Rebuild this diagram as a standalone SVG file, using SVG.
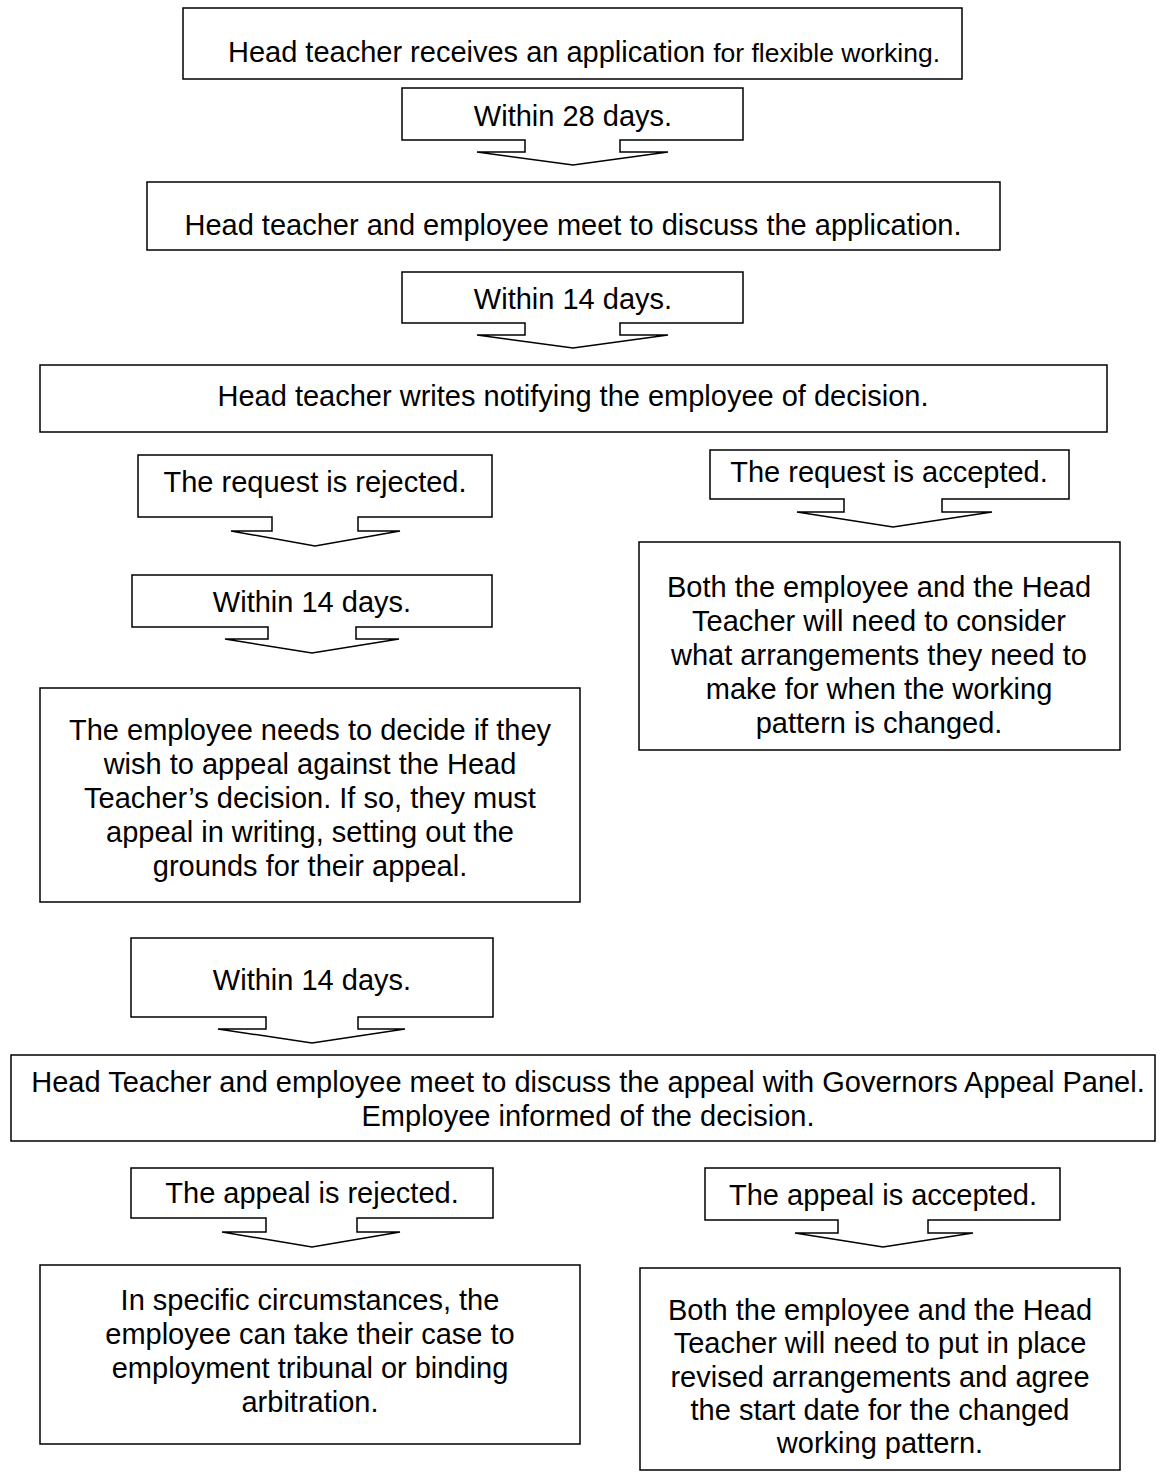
<svg xmlns="http://www.w3.org/2000/svg" width="1168" height="1478" viewBox="0 0 1168 1478">
<style>
.box{fill:#fff;stroke:#000;stroke-width:1.5}
.co{fill:#fff;stroke:#000;stroke-width:1.5;stroke-linejoin:miter}
text{font-family:"Liberation Sans",Arial,sans-serif;font-size:29px;fill:#000;text-anchor:middle}
</style>
<rect width="1168" height="1478" fill="#fff"/>
<g id="n1">
<rect class="box" x="183" y="8" width="779" height="71"/>
<text x="584" y="62">Head teacher receives an application <tspan style="font-size:26.5px">for flexible working.</tspan></text>
</g>
<g id="n2">
<rect class="box" x="147" y="182" width="853" height="68"/>
<text x="573" y="235">Head teacher and employee meet to discuss the application.</text>
</g>
<g id="n3">
<rect class="box" x="40" y="365" width="1067" height="67"/>
<text x="573" y="406">Head teacher writes notifying the employee of decision.</text>
</g>
<g id="n4">
<rect class="box" x="639" y="542" width="481" height="208"/>
<text x="879" y="597">Both the employee and the Head</text>
<text x="879" y="631">Teacher will need to consider</text>
<text x="879" y="665">what arrangements they need to</text>
<text x="879" y="699">make for when the working</text>
<text x="879" y="733">pattern is changed.</text>
</g>
<g id="n5">
<rect class="box" x="40" y="688" width="540" height="214"/>
<text x="310" y="740">The employee needs to decide if they</text>
<text x="310" y="774">wish to appeal against the Head</text>
<text x="310" y="808">Teacher’s decision. If so, they must</text>
<text x="310" y="842">appeal in writing, setting out the</text>
<text x="310" y="876">grounds for their appeal.</text>
</g>
<g id="n6">
<rect class="box" x="11" y="1055" width="1144" height="86"/>
<text x="588" y="1092">Head Teacher and employee meet to discuss the appeal with Governors Appeal Panel.</text>
<text x="588" y="1126">Employee informed of the decision.</text>
</g>
<g id="n7">
<rect class="box" x="40" y="1265" width="540" height="179"/>
<text x="310" y="1310">In specific circumstances, the</text>
<text x="310" y="1344">employee can take their case to</text>
<text x="310" y="1378">employment tribunal or binding</text>
<text x="310" y="1412">arbitration.</text>
</g>
<g id="n8">
<rect class="box" x="640" y="1268" width="480" height="202"/>
<text x="880" y="1320">Both the employee and the Head</text>
<text x="880" y="1353">Teacher will need to put in place</text>
<text x="880" y="1387">revised arrangements and agree</text>
<text x="880" y="1420">the start date for the changed</text>
<text x="880" y="1453">working pattern.</text>
</g>
<g id="connectors">
<g id="c1">
<path class="co" d="M402,88 H743 V140 H620 V152 H668 L573,165 L477,152 H525 V140 H402 Z"/>
<text x="573" y="126">Within 28 days.</text>
</g>
<g id="c2">
<path class="co" d="M402,272 H743 V323 H620 V335 H668 L573,348 L477,335 H525 V323 H402 Z"/>
<text x="573" y="309">Within 14 days.</text>
</g>
<g id="c3">
<path class="co" d="M138,455 H492 V517 H358 V531 H400 L315,546 L231,531 H272 V517 H138 Z"/>
<text x="315" y="492">The request is rejected.</text>
</g>
<g id="c4">
<path class="co" d="M710,450 H1069 V499 H942 V512 H992 L893,527 L797,512 H844 V499 H710 Z"/>
<text x="889" y="482">The request is accepted.</text>
</g>
<g id="c5">
<path class="co" d="M132,575 H492 V627 H356 V639 H399 L312,653 L225,639 H268 V627 H132 Z"/>
<text x="312" y="612">Within 14 days.</text>
</g>
<g id="c6">
<path class="co" d="M131,938 H493 V1017 H358 V1029 H405 L312,1043 L218,1029 H266 V1017 H131 Z"/>
<text x="312" y="990">Within 14 days.</text>
</g>
<g id="c7">
<path class="co" d="M131,1168 H493 V1218 H357 V1232 H400 L312,1247 L222,1232 H266 V1218 H131 Z"/>
<text x="312" y="1203">The appeal is rejected.</text>
</g>
<g id="c8">
<path class="co" d="M705,1168 H1060 V1220 H928 V1233 H973 L883,1247 L795,1233 H838 V1220 H705 Z"/>
<text x="883" y="1205">The appeal is accepted.</text>
</g>
</g>
</svg>
